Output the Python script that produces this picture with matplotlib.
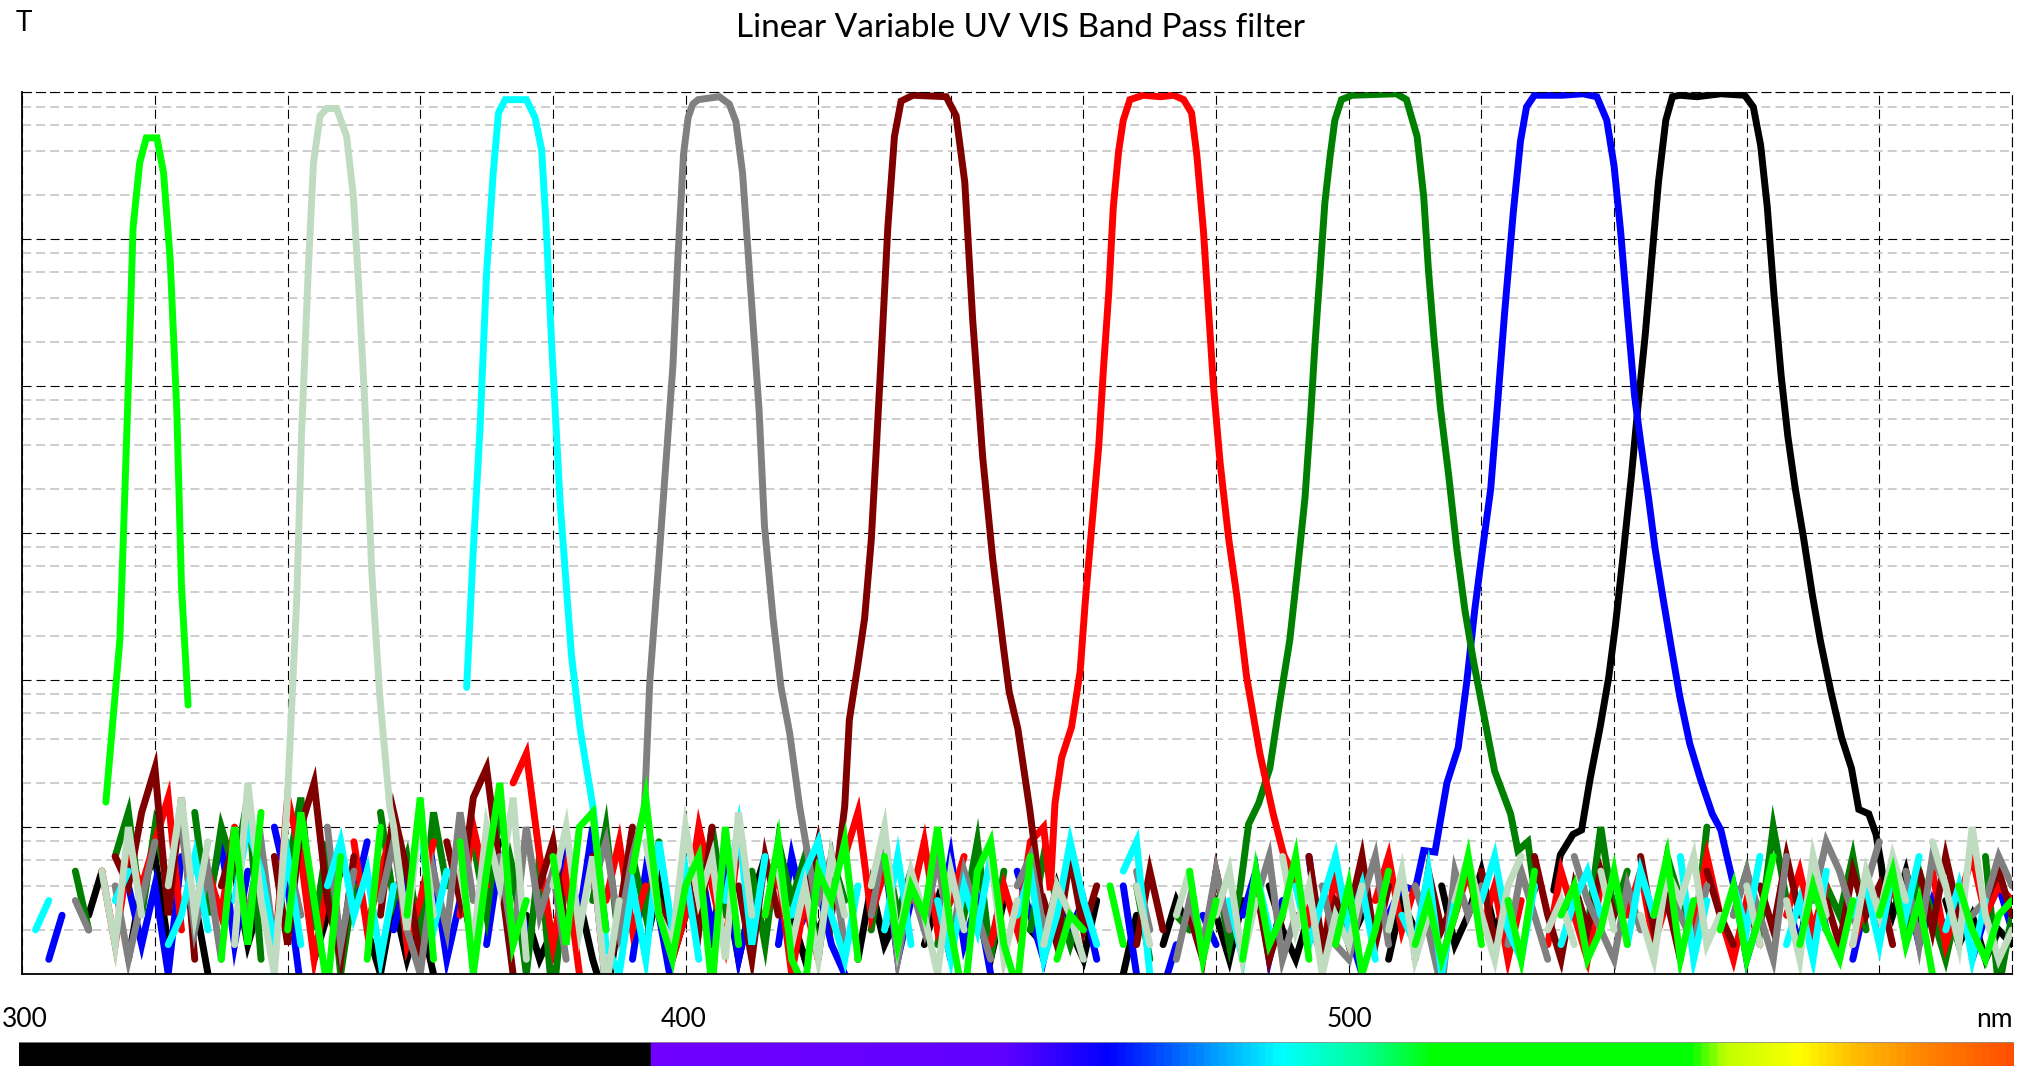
import numpy as np
import matplotlib
matplotlib.use("Agg")
import matplotlib.pyplot as plt
from matplotlib.colors import LinearSegmentedColormap
from matplotlib.ticker import LogLocator, NullFormatter

N = None  # gap in the measured trace

# ---- pass bands: wavelength (nm) and optical density (-log10 T) ----
lime_wl = [312.6, 314.7, 315.2, 316.0, 316.7, 317.7, 318.7, 320.3, 321.3, 322.3, 323.3, 324.0, 325.0]
lime_od = [4.83, 3.73, 3.08, 1.98, 0.92, 0.48, 0.31, 0.31, 0.55, 1.14, 2.17, 3.36, 4.17]

pale_wl = [339.9, 341.4, 342.1, 343.1, 343.9, 344.9, 345.9, 347.4, 348.9, 349.9, 350.7, 351.7, 352.7, 353.9, 355.4]
pale_od = [4.88, 3.42, 2.33, 1.23, 0.48, 0.16, 0.11, 0.11, 0.30, 0.70, 1.30, 2.17, 3.27, 4.11, 4.86]

cyan_wl = [367.0, 368.0, 369.0, 370.0, 371.0, 371.8, 372.8, 376.0, 377.3, 378.3, 379.0, 379.8, 381.1, 382.8, 384.1, 386.1]
cyan_od = [4.05, 3.11, 2.30, 1.23, 0.55, 0.14, 0.05, 0.05, 0.17, 0.39, 0.92, 1.70, 2.80, 3.83, 4.33, 4.88]

gray_wl = [393.8, 394.6, 396.1, 397.1, 398.1, 398.8, 399.7, 400.4, 401.1, 401.9, 405.1, 406.6, 407.6, 408.6,
           409.9, 411.1, 411.9, 413.2, 414.4, 415.7, 417.2, 419.5]
gray_od = [4.88, 4.02, 3.11, 2.48, 1.86, 1.17, 0.42, 0.17, 0.08, 0.05, 0.03, 0.08, 0.20, 0.55,
           1.39, 2.17, 2.95, 3.58, 4.05, 4.36, 4.86, 5.47]

darkred_wl = [424.0, 424.7, 426.0, 427.0, 428.0, 428.7, 429.5, 430.5, 431.5, 432.5, 434.3, 439.3, 440.8, 442.1,
              443.3, 444.8, 446.3, 447.8, 448.8, 450.1, 451.9, 453.7]
darkred_od = [4.86, 4.27, 3.89, 3.58, 3.05, 2.48, 1.80, 0.92, 0.30, 0.06, 0.02, 0.03, 0.16, 0.61,
              1.55, 2.48, 3.17, 3.73, 4.08, 4.33, 4.88, 5.52]

red_wl = [455.0, 455.7, 456.7, 458.2, 459.5, 460.3, 461.3, 462.3, 463.0, 463.8, 464.5, 465.3, 466.0, 467.0,
          469.0, 471.6, 473.6, 475.1, 476.3, 477.1, 478.1, 478.8, 479.6, 480.6, 481.9, 483.1, 484.6, 486.6,
          488.6, 490.2, 491.7, 492.2]
red_od = [5.43, 4.84, 4.53, 4.32, 3.94, 3.45, 2.93, 2.41, 1.89, 1.37, 0.78, 0.40, 0.19, 0.05,
          0.02, 0.03, 0.02, 0.05, 0.14, 0.43, 0.95, 1.44, 2.00, 2.52, 3.04, 3.42, 3.98, 4.50,
          4.91, 5.19, 5.33, 5.43]

green_wl = [483.6, 484.9, 486.4, 488.1, 489.6, 491.1, 492.2, 493.4, 494.2, 494.9, 495.7, 496.4, 497.2, 497.9,
            498.9, 500.5, 507.2, 508.7, 510.3, 511.3, 512.0, 512.8, 513.8, 515.1, 516.3, 517.5, 518.8, 520.3,
            522.0, 524.4, 525.5, 527.0, 528.0]
green_od = [5.43, 4.98, 4.84, 4.60, 4.15, 3.73, 3.28, 2.76, 2.24, 1.72, 1.20, 0.75, 0.43, 0.19,
            0.05, 0.02, 0.01, 0.05, 0.30, 0.71, 1.20, 1.65, 2.14, 2.62, 3.11, 3.52, 3.87, 4.22,
            4.62, 4.91, 5.16, 5.10, 5.43]

blue_wl = [510.0, 511.3, 513.0, 514.8, 516.5, 517.8, 519.0, 520.2, 521.4, 522.4, 523.5, 524.8, 525.9, 526.8,
           528.0, 532.2, 535.3, 537.4, 538.9, 540.0, 541.0, 542.1, 543.1, 544.1, 545.2, 546.2, 547.3, 548.6,
           549.9, 551.4, 553.0, 554.8, 556.1, 558.2]
blue_od = [5.43, 5.16, 5.17, 4.70, 4.46, 4.01, 3.52, 3.10, 2.70, 2.14, 1.50, 0.82, 0.33, 0.10,
           0.02, 0.02, 0.01, 0.03, 0.19, 0.50, 0.95, 1.55, 2.07, 2.41, 2.76, 3.11, 3.42, 3.77,
           4.11, 4.43, 4.67, 4.91, 5.02, 5.43]

black_wl = [530.9, 531.9, 533.8, 535.1, 536.4, 537.9, 539.2, 540.2, 541.3, 542.6, 543.6, 544.7, 545.7, 546.7,
            547.8, 548.8, 549.9, 552.5, 556.1, 559.7, 561.0, 562.1, 563.1, 564.1, 565.2, 566.2, 567.3, 568.6,
            569.9, 571.1, 572.7, 574.3, 575.8, 576.9, 578.4, 579.5, 580.3, 580.8]
black_od = [5.43, 5.19, 5.05, 5.02, 4.67, 4.32, 3.98, 3.63, 3.18, 2.62, 2.14, 1.65, 1.13, 0.61,
            0.19, 0.03, 0.02, 0.03, 0.01, 0.02, 0.10, 0.36, 0.78, 1.37, 1.93, 2.34, 2.69, 3.04,
            3.42, 3.73, 4.08, 4.39, 4.60, 4.88, 4.91, 5.05, 5.26, 5.43]

# ---- blocking-region noise, optical density every 2 nm from 300 to 600 nm ----
lime_noise = [
    N, N, 5.8, N, N, 5.6, N, N, N, N,
    N, N, N, N, N, 5.9, 5.0, 5.8, 4.9, N,
    5.7, 4.9, 5.5, 6.1, 5.2, N, 5.9, 5.0, N, 5.6,
    4.8, 5.9, N, 5.1, 6.0, 5.3, 4.7, 5.8, 5.5, N,
    5.2, 5.8, 5.0, 4.9, 5.7, N, 5.3, 4.8, 5.6, 5.9,
    5.4, 5.2, 6.1, 5.0, 5.8, N, 5.6, 5.1, 5.9, 6.1,
    5.3, 5.5, 5.1, 5.9, N, 5.2, 5.8, 5.4, 5.6, 5.0,
    5.7, 6.2, 5.3, 5.1, 5.8, 6.1, 5.2, N, 5.9, 5.6,
    5.7, N, 5.4, 5.8, N, 5.6, N, N, 5.3, 5.9,
    5.5, N, 5.9, 5.3, 5.8, 5.6, 5.2, 5.9, N, 5.8,
    5.4, 6.0, 5.7, 5.3, N, 5.8, 5.5, 5.9, 5.6, 5.2,
    5.8, N, 5.5, 5.9, 5.3, N, 5.6, 5.4, 5.9, 5.7,
    5.3, 5.8, N, 5.6, 5.2, 5.9, 5.5, N, 5.7, 5.4,
    5.9, 5.6, 5.2, N, 5.8, 5.4, 5.7, 5.9, 5.5, N,
    5.6, 5.3, 5.8, 5.5, 6.0, N, 5.4, 5.7, 5.9, 5.6,
    5.5]
pale_noise = [
    N, N, N, N, 5.9, N, 5.3, 5.8, 5.0, 5.6,
    N, 5.4, 4.8, 5.6, 5.1, N, 5.8, 4.7, 5.5, 6.0,
    N, N, N, N, N, N, N, N, 5.0, 5.7,
    4.9, 5.6, N, 5.3, 5.8, 5.0, 5.4, 4.8, 5.9, N,
    5.4, 5.0, 5.7, 5.2, 6.1, 5.5, N, 5.1, 5.6, 5.8,
    5.0, 5.5, 5.2, 5.9, 4.9, 5.6, N, 5.3, 5.8, 5.4,
    5.9, 5.2, 5.6, N, 5.4, 5.0, 5.8, 5.3, 5.6, 6.0,
    5.3, 5.7, N, 5.2, 5.9, 5.5, N, 5.8, 5.4, 5.6,
    5.9, N, 5.5, N, 5.4, 5.8, N, 5.6, 5.3, N,
    5.6, 5.3, 5.9, 5.5, N, 5.2, 5.7, 5.4, 6.0, 5.6,
    5.8, 5.4, N, 5.7, 5.3, 5.9, 5.6, N, 5.5, 5.2,
    5.6, 5.9, 5.4, 5.2, N, 5.7, 5.5, 5.8, N, 5.3,
    5.7, N, 5.6, 5.9, 5.3, 5.5, 5.2, 5.8, 5.6, N,
    5.4, 5.8, N, 5.5, 5.9, 5.2, 5.6, N, 5.8, 5.3,
    5.6, 5.2, 5.5, N, 5.1, 5.4, 5.8, 5.0, 5.6, 5.9,
    5.7]
cyan_noise = [
    N, 5.7, 5.5, N, 5.6, N, N, 5.5, 5.3, N,
    N, 5.8, 5.6, 5.2, 5.7, N, 5.5, 5.0, 5.3, 5.8,
    5.2, 5.8, N, 5.4, 5.1, 5.6, 5.3, 5.9, 5.4, N,
    5.0, 5.7, 5.3, N, N, N, N, N, N, N,
    N, N, N, 5.2, 5.8, 6.0, 5.4, 5.9, 5.1, 5.7,
    5.3, 5.9, N, 5.5, 5.0, 5.8, 5.2, N, 5.6, 5.3,
    5.1, 5.6, 5.9, 5.4, N, 5.7, 5.2, 5.8, N, 5.5,
    5.9, 5.4, 5.7, 5.2, N, 5.6, 5.3, 5.9, 5.6, 5.1,
    5.5, 5.8, N, 5.3, 5.1, 6.0, N, 5.4, N, 5.7,
    N, 5.5, 5.9, 5.3, 5.7, N, 5.4, 5.8, 5.5, 5.2,
    5.7, 5.4, 5.9, N, 5.6, 5.8, 5.3, 6.0, 5.5, N,
    5.5, 5.2, 5.7, 5.9, 5.4, N, 5.8, 5.5, 5.3, 5.6,
    N, 5.8, 5.3, 5.6, N, 5.2, 5.9, 5.5, N, 5.4,
    5.7, 5.2, N, 5.8, 5.5, 5.9, 5.3, N, 5.6, 5.4,
    5.8, 5.3, 5.6, 5.2, N, 5.7, 5.4, 5.9, 5.5, N,
    5.6]
gray_noise = [
    N, N, N, N, 5.5, 5.7, N, 5.4, 5.9, 5.5,
    5.1, N, 5.0, 5.7, 5.3, 5.9, N, 5.6, 5.1, 5.8,
    5.2, 5.6, N, 5.0, 5.8, 5.3, N, 5.5, 5.1, 5.7,
    6.0, 5.3, 5.7, 4.9, 5.5, N, 5.2, 5.8, 5.0, 5.6,
    5.3, 5.9, N, 5.4, 5.1, 5.7, 5.2, N, N, N,
    N, N, N, N, N, N, N, N, N, N,
    5.5, 5.2, 5.8, N, 5.6, 5.1, 5.9, 5.4, 5.7, 5.2,
    5.8, 5.3, 5.6, 5.9, N, 5.4, 5.2, 5.7, 5.5, N,
    5.8, N, 5.6, N, 5.3, 5.7, N, 5.9, 5.5, 5.8,
    5.3, 5.7, N, 5.5, 5.2, 5.9, 5.6, N, 5.4, 5.8,
    5.9, 5.5, 5.2, 5.8, N, 5.4, 5.7, 6.1, 5.3, 5.6,
    5.4, N, 5.8, 5.3, 5.6, 5.9, N, 5.2, 5.5, 5.7,
    5.9, 5.4, 5.7, N, 5.3, 5.6, 5.8, 5.4, N, 5.6,
    5.3, 5.6, 5.9, 5.2, N, 5.5, 5.1, 5.3, 5.6, 5.4,
    5.1, N, 5.3, 5.8, 5.2, 5.4, N, 5.6, 5.5, 5.2,
    5.4]
darkred_noise = [
    N, N, 5.6, N, 5.3, N, N, 5.2, 5.4, 4.9,
    4.6, 5.6, 4.8, 5.9, N, 5.4, 5.1, 5.7, N, 5.2,
    5.8, 5.0, 4.7, 5.5, 5.9, 5.2, N, 5.6, 4.9, 5.3,
    5.9, N, 5.1, 5.5, 4.8, 4.6, 5.3, 6.0, N, 5.4,
    5.1, 5.7, N, 5.2, 6.1, 5.6, 5.0, N, 5.5, 5.8,
    5.3, 5.7, 5.0, N, 5.4, 5.9, 5.2, 5.6, N, 5.5,
    5.1, 5.6, N, N, N, N, N, N, N, N,
    N, N, N, N, N, N, N, 5.5, 5.8, 5.2,
    5.7, 5.4, N, N, 5.8, 5.3, 5.7, N, 5.6, 5.9,
    5.3, 5.7, N, 5.4, 5.9, 5.6, N, 5.2, 5.8, 5.5,
    5.6, 5.2, 5.8, 5.4, N, 5.9, 5.3, 5.7, 5.5, N,
    5.3, 5.8, 5.5, N, 5.2, 5.6, 5.9, 5.4, 5.7, 5.3,
    5.6, N, 5.2, 5.7, 5.5, 5.9, N, 5.3, 5.6, 5.8,
    N, 5.4, 5.7, 5.2, 5.6, N, 5.5, 5.8, 5.3, 5.6,
    5.4, 5.8, N, 5.3, 5.7, 5.2, 5.6, N, 5.5, 5.3,
    5.6]
red_noise = [
    N, N, N, N, 5.6, N, 5.3, 5.8, 5.2, 5.4,
    5.1, 4.8, 5.7, N, 5.3, 5.6, 5.0, N, 5.5, 5.9,
    4.8, 5.2, 5.9, 5.4, N, 5.1, 5.7, 5.3, 5.0, 5.8,
    5.5, 5.1, N, 5.6, 5.0, 5.4, N, 4.7, 4.5, 5.2,
    5.8, 5.3, 6.0, N, 5.5, 5.1, 5.7, 5.4, N, 5.9,
    5.6, 5.0, 5.4, 5.8, 5.1, N, 5.6, 5.3, 6.0, 5.5,
    5.9, N, 5.2, 4.9, 5.6, 5.3, N, 5.5, 5.1, 5.7,
    5.5, 5.2, N, 5.8, 5.4, 5.7, 5.1, 5.0, N, N,
    N, N, N, N, N, N, N, N, N, N,
    N, N, N, N, N, N, N, 5.6, 5.9, 5.3,
    5.8, N, 5.5, 5.2, 5.7, 5.4, N, 5.9, 5.6, 5.3,
    5.7, 5.4, 5.9, 5.5, N, 5.8, 5.3, 5.6, 5.9, 5.4,
    N, 5.6, 5.3, 5.8, 5.5, N, 5.7, 5.2, 5.6, 5.9,
    5.5, 5.8, N, 5.6, 5.3, 5.7, 5.4, N, 5.8, 5.5,
    5.7, 5.4, 5.6, N, 5.3, 5.8, 5.5, 5.2, 5.6, 5.4,
    5.5]
green_noise = [
    N, N, 5.5, N, 5.3, 5.7, N, 5.2, 4.9, 5.6,
    5.0, 5.4, N, 4.9, 5.6, 5.0, 5.3, 4.8, 5.9, N,
    5.3, 4.8, 5.7, 5.1, 6.0, 5.4, N, 4.9, 5.5, 5.2,
    5.8, 4.9, 5.4, N, 5.1, 5.6, 4.9, 5.3, 6.0, 5.2,
    6.2, 5.3, N, 5.5, 5.0, 5.8, 5.2, 5.6, 5.1, N,
    5.4, 5.7, 5.0, 5.6, N, 5.3, 5.8, 5.1, 5.5, 5.2,
    5.9, 5.2, 5.5, N, 5.7, 5.1, 5.6, 5.3, N, 5.8,
    5.4, 5.6, 5.1, 5.9, 5.3, N, 5.7, 5.2, 5.5, 5.8,
    5.5, N, 5.8, N, 5.4, 5.9, N, 5.6, 5.7, N,
    5.3, 5.8, N, N, N, N, N, N, N, N,
    N, N, N, N, N, N, N, N, N, N,
    N, N, N, N, N, N, N, 5.4, 5.7, 5.0,
    5.6, 5.3, N, 5.7, 5.2, 5.5, 5.8, 5.0, N, 5.6,
    5.3, 5.7, 5.0, 5.5, N, 5.8, 5.4, 5.6, 5.2, 5.7,
    N, 5.4, 5.7, 5.3, 5.6, 5.9, 5.5, N, 5.2, 6.1,
    5.6]
blue_noise = [
    N, N, 5.9, 5.6, N, 5.7, N, N, 5.4, 5.8,
    5.4, 6.0, 5.2, N, 5.5, 5.1, 5.8, 5.3, N, 5.0,
    5.4, 6.1, N, 5.2, 5.8, 5.5, 5.1, N, 5.7, 5.3,
    5.7, 5.3, 5.9, 5.5, N, 5.8, 5.2, 5.4, 5.7, N,
    5.9, 5.2, 5.6, 5.0, 5.7, N, 5.9, 5.3, 5.6, 6.1,
    N, 5.2, 5.7, 5.3, 5.9, 5.5, N, 5.8, 5.2, 5.6,
    5.4, 5.8, 6.0, N, 5.6, 5.2, 5.9, 5.5, N, 5.7,
    5.2, 5.8, 5.5, 6.0, N, 5.3, 5.6, 5.9, 5.5, 5.7,
    5.5, 5.9, N, 5.4, 6.0, N, 6.1, 5.8, N, 5.6,
    5.8, N, 5.6, 5.3, 5.9, 5.5, N, 5.2, 5.9, 5.6,
    5.7, 6.0, N, 5.6, 5.4, N, N, N, N, N,
    N, N, N, N, N, N, N, N, N, N,
    N, N, N, N, N, N, N, N, N, N,
    5.9, 5.6, N, 5.5, 5.8, 5.3, 5.7, N, 5.9, 5.5,
    5.6, N, 5.4, 5.8, 5.5, 5.7, N, 5.9, 5.6, 5.4,
    5.7]
black_noise = [
    N, N, 5.8, N, N, 5.6, 5.3, N, 5.9, 5.4,
    5.2, 5.8, N, 5.5, 6.0, N, 5.3, 5.8, 5.5, N,
    5.4, N, 5.9, 5.6, 5.3, N, 5.7, 6.0, 5.5, 5.9,
    5.6, 6.0, N, 5.4, 5.8, 5.3, 5.1, N, 5.6, 5.9,
    5.7, N, 5.5, 5.9, 6.2, 5.6, N, 5.8, 5.4, 5.9,
    5.6, N, 5.8, 5.4, 5.9, 5.5, 5.2, N, 5.6, 5.9,
    5.7, 5.5, N, 5.9, 5.4, 5.8, 5.6, N, 5.8, 5.5,
    5.9, N, 5.6, 5.9, 5.5, N, 5.7, 5.8, 5.4, 5.7,
    5.9, 5.5, N, 6.0, 5.6, N, 5.8, 5.5, 5.7, N,
    5.6, 5.9, 5.5, N, 5.4, 5.7, 5.9, 5.6, N, 5.5,
    5.8, 5.6, N, 5.9, 5.5, 5.7, N, 5.4, 5.8, 5.6,
    5.3, 5.7, 5.5, N, 5.4, N, N, N, N, N,
    N, N, N, N, N, N, N, N, N, N,
    N, N, N, N, N, N, N, N, N, N,
    N, 5.6, 5.3, 5.7, N, 5.5, 5.8, 5.6, 5.9, 5.7,
    5.8]

filters = [
    ("#00ff00", lime_wl, lime_od, lime_noise),
    ("#c0dcc0", pale_wl, pale_od, pale_noise),
    ("#00ffff", cyan_wl, cyan_od, cyan_noise),
    ("#808080", gray_wl, gray_od, gray_noise),
    ("#800000", darkred_wl, darkred_od, darkred_noise),
    ("#ff0000", red_wl, red_od, red_noise),
    ("#008000", green_wl, green_od, green_noise),
    ("#0000ff", blue_wl, blue_od, blue_noise),
    ("#000000", black_wl, black_od, black_noise),
]

# wavelength scale under the plot
bar_nm = [300, 394.7, 394.8, 448, 464, 490, 503, 513, 552, 557, 568.5, 576, 588, 600]
bar_colors = ["#000000", "#000000", "#7000ff", "#6000ff", "#0000ff", "#00ffff", "#00ff90",
              "#00ff00", "#00ff00", "#c0ff00", "#ffff00", "#ffc000", "#ff8000", "#ff5000"]
bar_labels = [300, 400, 500]

noise_step_wl = np.arange(300, 601, 2)


def join_trace(peak_wl, peak_od, noise):
    assert len(noise) == len(noise_step_wl), len(noise)
    pw = np.array(peak_wl, float)
    nod = np.array([np.nan if v is None else v for v in noise], float)
    keep = (noise_step_wl < pw[0]) | (noise_step_wl > pw[-1])
    wl = np.concatenate([noise_step_wl[keep], pw])
    od = np.concatenate([nod[keep], np.array(peak_od, float)])
    order = np.argsort(wl, kind="stable")
    return wl[order], 10.0 ** (-od[order])


plt.rcParams["lines.scale_dashes"] = False
font = ["Lato", "DejaVu Sans"]

fig = plt.figure(figsize=(20.22, 10.66), dpi=100)
ax = fig.add_axes([0.01103, 0.0863, 0.98402, 0.82711])

# longest wavelength first, so the short-wave traces end up on top
for color, pwl, pod, noise in filters[::-1]:
    wl, t = join_trace(pwl, pod, noise)
    ax.plot(wl, t, color=color, lw=5.0, solid_joinstyle="miter", solid_capstyle="round")

ax.set_yscale("log")
ax.set_xlim(300, 600)
ax.set_ylim(1e-6, 1)
ax.set_xticks(np.arange(300, 601, 20))
ax.set_yticks([1e-6, 1e-5, 1e-4, 1e-3, 1e-2, 1e-1, 1])
ax.yaxis.set_minor_locator(LogLocator(base=10, subs=(2, 4, 6, 8), numticks=20))
ax.yaxis.set_minor_formatter(NullFormatter())
ax.tick_params(which="both", length=0, labelbottom=False, labelleft=False)
ax.set_axisbelow(True)
ax.grid(which="major", color="black", lw=0.8, ls=(0, (6.5, 3.6)))
ax.grid(which="minor", axis="y", color="#c0c0c0", lw=1.1, ls=(0, (6.5, 3.6)))
for side in ["left", "bottom"]:
    ax.spines[side].set_color("black")
    ax.spines[side].set_linewidth(1.3)
for side in ["top", "right"]:
    ax.spines[side].set_linestyle((0, (6.5, 3.6)))
    ax.spines[side].set_linewidth(0.8)

# colour scale
cax = fig.add_axes([19 / 2022, 0, 1995 / 2022, 24 / 1066])
pos = [(v - 300) / 300 for v in bar_nm]
cmap = LinearSegmentedColormap.from_list("spectrum", list(zip(pos, bar_colors)))
cax.imshow(np.linspace(0, 1, 1500)[None, :], cmap=cmap, aspect="auto", extent=[300, 600, 0, 1])
cax.axhline(1, color="#909090", lw=1.2)
cax.set_xlim(300, 600)
cax.set_ylim(0, 1)
cax.axis("off")

for v in bar_labels:
    xf = (19 + (v - 300) / 300 * 1995) / 2022
    if v == bar_labels[0]:
        fig.text(2 / 2022, 0.0366, str(v), ha="left", va="baseline", fontsize=19, family=font)
    else:
        fig.text(xf, 0.0366, str(v), ha="center", va="baseline", fontsize=19, family=font)
fig.text(0.9955, 0.0366, "nm", ha="right", va="baseline", fontsize=19, family=font)

fig.text(0.5045, 0.9653, "Linear Variable UV VIS Band Pass filter", ha="center", va="baseline",
         fontsize=24, family=font)
fig.text(0.0079, 0.971, "T", ha="left", va="baseline", fontsize=20, family=font)

fig.savefig("out.png", dpi=100)
